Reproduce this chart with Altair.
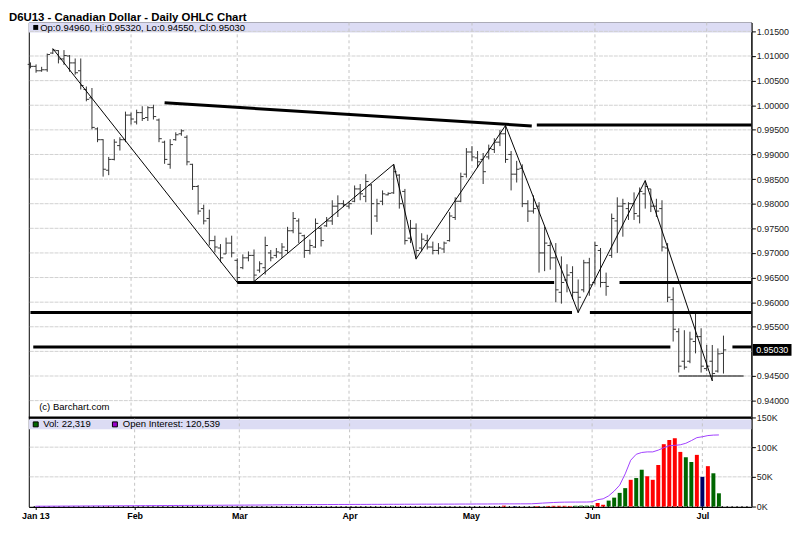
import altair as alt
import pandas as pd

# ---------------- data ----------------
highs = [
    1.0087, 1.0083, 1.0078, 1.0105, 1.0115, 1.0112, 1.0112, 1.0102, 1.0095, 1.0095,
    1.0038, 1.0035, 0.9955, 0.9931, 0.9895, 0.9931, 0.9935, 0.9987, 0.9985, 0.9991,
    0.9998, 0.9998, 1.0001, 0.9973, 0.9928, 0.9931, 0.9945, 0.9951, 0.9939, 0.9881,
    0.9838, 0.9798, 0.9788, 0.9735, 0.9718, 0.9731, 0.9735, 0.9689, 0.9697, 0.9703,
    0.9707, 0.9683, 0.9733, 0.9706, 0.9710, 0.9720, 0.9753, 0.9783, 0.9770, 0.9737,
    0.9727, 0.9770, 0.9753, 0.9773, 0.9807, 0.9817, 0.9807, 0.9803, 0.9837, 0.9840,
    0.9860, 0.9840, 0.9810, 0.9827, 0.9823, 0.9880, 0.9860, 0.9830, 0.9767, 0.9760,
    0.9740, 0.9737, 0.9723, 0.9720, 0.9723, 0.9783, 0.9813, 0.9863, 0.9913, 0.9917,
    0.9907, 0.9903, 0.9920, 0.9933, 0.9950, 0.9959, 0.9907, 0.9887, 0.9880, 0.9807,
    0.9817, 0.9803, 0.9753, 0.9723, 0.9720, 0.9693, 0.9677, 0.9673, 0.9646, 0.9686,
    0.9690, 0.9723, 0.9710, 0.9660, 0.9780, 0.9813, 0.9810, 0.9803, 0.9823, 0.9833,
    0.9847, 0.9830, 0.9810, 0.9807, 0.9720, 0.9630, 0.9547, 0.9543, 0.9540, 0.9576,
    0.9547, 0.9513, 0.9513, 0.9506, 0.9532,
]
lows = [
    1.0075, 1.0066, 1.0068, 1.0068, 1.0104, 1.0085, 1.0082, 1.0068, 1.0062, 1.0032,
    1.0008, 0.9951, 0.9925, 0.9855, 0.9858, 0.9888, 0.9908, 0.9925, 0.9961, 0.9961,
    0.9968, 0.9968, 0.9971, 0.9925, 0.9881, 0.9871, 0.9928, 0.9938, 0.9878, 0.9828,
    0.9778, 0.9758, 0.9715, 0.9701, 0.9681, 0.9698, 0.9691, 0.9640, 0.9667, 0.9683,
    0.9642, 0.9660, 0.9656, 0.9683, 0.9690, 0.9690, 0.9700, 0.9740, 0.9720, 0.9690,
    0.9697, 0.9710, 0.9713, 0.9753, 0.9757, 0.9773, 0.9793, 0.9790, 0.9803, 0.9807,
    0.9803, 0.9737, 0.9763, 0.9797, 0.9817, 0.9820, 0.9790, 0.9717, 0.9720, 0.9687,
    0.9703, 0.9707, 0.9697, 0.9697, 0.9700, 0.9723, 0.9767, 0.9803, 0.9853, 0.9887,
    0.9873, 0.9840, 0.9890, 0.9903, 0.9917, 0.9883, 0.9827, 0.9843, 0.9793, 0.9763,
    0.9780, 0.9660, 0.9663, 0.9666, 0.9600, 0.9597, 0.9620, 0.9606, 0.9578, 0.9620,
    0.9613, 0.9636, 0.9630, 0.9613, 0.9690, 0.9700, 0.9733, 0.9767, 0.9767, 0.9760,
    0.9790, 0.9783, 0.9773, 0.9703, 0.9600, 0.9520, 0.9457, 0.9463, 0.9476, 0.9496,
    0.9457, 0.9460, 0.9440, 0.9457, 0.9455,
]
opens = [
    1.0083, 1.0079, 1.0070, 1.0072, 1.0106, 1.0111, 1.0094, 1.0100, 1.0086, 1.0070,
    1.0032, 1.0015, 0.9952, 0.9930, 0.9868, 0.9890, 0.9918, 0.9930, 0.9980, 0.9966,
    0.9985, 0.9975, 0.9995, 0.9970, 0.9925, 0.9880, 0.9930, 0.9942, 0.9935, 0.9880,
    0.9835, 0.9790, 0.9770, 0.9725, 0.9710, 0.9698, 0.9720, 0.9685, 0.9670, 0.9690,
    0.9695, 0.9665, 0.9670, 0.9700, 0.9695, 0.9700, 0.9705, 0.9745, 0.9765, 0.9735,
    0.9705, 0.9712, 0.9750, 0.9755, 0.9765, 0.9795, 0.9800, 0.9795, 0.9805, 0.9830,
    0.9815, 0.9838, 0.9775, 0.9805, 0.9818, 0.9822, 0.9858, 0.9825, 0.9730, 0.9750,
    0.9710, 0.9725, 0.9712, 0.9705, 0.9708, 0.9725, 0.9772, 0.9805, 0.9860, 0.9905,
    0.9893, 0.9890, 0.9895, 0.9910, 0.9925, 0.9942, 0.9900, 0.9860, 0.9872, 0.9800,
    0.9785, 0.9795, 0.9700, 0.9715, 0.9690, 0.9620, 0.9645, 0.9660, 0.9620, 0.9625,
    0.9680, 0.9640, 0.9705, 0.9640, 0.9695, 0.9765, 0.9795, 0.9790, 0.9800, 0.9775,
    0.9820, 0.9830, 0.9795, 0.9790, 0.9710, 0.9605, 0.9540, 0.9480, 0.9480, 0.9520,
    0.9530, 0.9465, 0.9480, 0.9460, 0.9496,
]
closes = [
    1.0079, 1.0070, 1.0072, 1.0103, 1.0112, 1.0094, 1.0101, 1.0086, 1.0066, 1.0040,
    1.0012, 0.9955, 0.9930, 0.9870, 0.9890, 0.9925, 0.9930, 0.9980, 0.9972, 0.9985,
    0.9973, 0.9995, 0.9977, 0.9932, 0.9890, 0.9920, 0.9940, 0.9948, 0.9885, 0.9835,
    0.9785, 0.9765, 0.9725, 0.9712, 0.9690, 0.9720, 0.9700, 0.9650, 0.9690, 0.9695,
    0.9655, 0.9678, 0.9715, 0.9690, 0.9702, 0.9712, 0.9745, 0.9770, 0.9740, 0.9705,
    0.9715, 0.9760, 0.9725, 0.9765, 0.9795, 0.9800, 0.9798, 0.9800, 0.9830, 0.9820,
    0.9845, 0.9800, 0.9800, 0.9820, 0.9821, 0.9865, 0.9800, 0.9725, 0.9750, 0.9705,
    0.9728, 0.9712, 0.9705, 0.9710, 0.9720, 0.9775, 0.9805, 0.9855, 0.9905, 0.9895,
    0.9885, 0.9865, 0.9912, 0.9925, 0.9942, 0.9890, 0.9860, 0.9870, 0.9800, 0.9785,
    0.9790, 0.9700, 0.9720, 0.9690, 0.9625, 0.9640, 0.9655, 0.9620, 0.9610, 0.9680,
    0.9635, 0.9715, 0.9640, 0.9632, 0.9770, 0.9795, 0.9800, 0.9800, 0.9780, 0.9825,
    0.9835, 0.9795, 0.9785, 0.9712, 0.9610, 0.9545, 0.9470, 0.9468, 0.9525, 0.9530,
    0.9470, 0.9470, 0.9455, 0.9495, 0.9503,
]
volumes = [
    0, 0, 0, 0, 0, 0, 0, 0, 0, 0,
    0, 0, 0, 300, 0, 0, 0, 0, 0, 0,
    0, 0, 0, 0, 0, 0, 0, 0, 0, 0,
    0, 0, 0, 0, 0, 0, 0, 0, 0, 0,
    0, 0, 0, 0, 0, 0, 0, 0, 0, 0,
    0, 0, 0, 0, 0, 0, 0, 0, 0, 0,
    0, 0, 0, 0, 0, 0, 0, 0, 0, 0,
    0, 0, 0, 0, 0, 0, 0, 0, 0, 0,
    0, 0, 0, 0, 0, 1500, 0, 800, 0, 0,
    0, 1000, 0, 1000, 1200, 1200, 1200, 1000, 1300, 1500,
    1500, 1800, 6000, 3000, 10000, 15000, 23000, 31000, 45000, 48000,
    62000, 51000, 45000, 70000, 105000, 112000, 115000, 92000, 83000, 75000,
    87000, 50000, 68000, 56000, 22319,
]
vol_dir = [
    "d", "d", "d", "d", "d", "d", "d", "d", "d", "d",
    "d", "d", "d", "d", "d", "d", "d", "d", "d", "d",
    "d", "d", "d", "d", "d", "d", "d", "d", "d", "d",
    "d", "d", "d", "d", "d", "d", "d", "d", "d", "d",
    "d", "d", "d", "d", "d", "d", "d", "d", "d", "d",
    "d", "d", "d", "d", "d", "d", "d", "d", "d", "d",
    "d", "d", "d", "d", "d", "d", "d", "d", "d", "d",
    "d", "d", "d", "d", "d", "d", "d", "d", "d", "d",
    "d", "d", "d", "d", "d", "d", "d", "f", "d", "d",
    "d", "d", "d", "d", "d", "d", "d", "d", "u", "u",
    "u", "u", "d", "d", "u", "u", "u", "u", "d", "u",
    "u", "d", "d", "d", "d", "d", "d", "d", "u", "u",
    "d", "f", "d", "u", "u",
]
open_interest = [
    500, 600, 600, 700, 700, 800, 800, 900, 900, 1000,
    1000, 1100, 1100, 1200, 1200, 1300, 1300, 1400, 1400, 1500,
    1500, 1600, 1600, 1700, 1700, 1800, 1800, 1900, 1900, 2000,
    2000, 2100, 2100, 2200, 2200, 2300, 2300, 2400, 2400, 2500,
    2500, 2600, 2700, 2800, 2900, 3000, 3000, 3100, 3100, 3200,
    3200, 3300, 3300, 3400, 3400, 3500, 3500, 3500, 3600, 3600,
    3600, 3700, 3700, 3700, 3800, 3800, 3800, 3900, 3900, 3900,
    4000, 4000, 4000, 4000, 4100, 4100, 4100, 4200, 4200, 4200,
    4300, 4300, 4300, 4400, 4400, 4500, 4500, 4500, 4600, 4600,
    4700, 5200, 5800, 6300, 6800, 7200, 7400, 7500, 7500, 7600,
    7600, 8000, 11500, 13000, 18000, 26000, 36000, 55000, 78000, 88000,
    91000, 92000, 92000, 95000, 99000, 102500, 103000, 104000, 106500, 111000,
    116000, 117500, 119500, 120300, 120539,
]

month_idx = [0, 18, 37, 57, 79, 101, 121]
month_labels = ["Jan 13", "Feb", "Mar", "Apr", "May", "Jun", "Jul"]
price_ticks = [0.940, 0.945, 0.950, 0.955, 0.960, 0.965, 0.970, 0.975,
               0.980, 0.985, 0.990, 0.995, 1.000, 1.005, 1.010, 1.015]
price_labels = [0.940, 0.945, 0.955, 0.960, 0.965, 0.970, 0.975,
                0.980, 0.985, 0.990, 0.995, 1.000, 1.005, 1.010, 1.015]
vol_ticks = [0, 50000, 100000, 150000]

# zig-zag trend line (bar index, price)
zz_idx = [4, 37, 40, 65, 69, 85, 98, 110, 122]
zz_px = [1.0115, 0.9640, 0.9642, 0.9880, 0.9688, 0.9959, 0.9579, 0.9847, 0.9440]

# heavy support / resistance lines (bar index, price)
thick_x1 = [24.0, 90.6, 37.0, 105.4, 0.0, 100.1, 0.5, 125.6]
thick_x2 = [89.7, 129.0, 93.7, 129.0, 96.9, 129.0, 114.5, 129.0]
thick_y1 = [1.0005, 0.9960, 0.9640, 0.9640, 0.9579, 0.9579, 0.9509, 0.9509]
thick_y2 = [0.9958, 0.9960, 0.9640, 0.9640, 0.9579, 0.9579, 0.9509, 0.9509]
thin_x1 = [116.0]
thin_x2 = [127.6]
thin_y = [0.9450]

# ---------------- chart ----------------
FONT = "Liberation Sans"
W, HM, HV = 730, 399, 90

bars = pd.DataFrame({
    "i": list(range(len(highs))), "o": opens, "h": highs, "l": lows, "c": closes,
    "v": volumes, "d": vol_dir, "oi": open_interest,
})

xs = alt.Scale(domain=[-0.3, 129.0], nice=False, zero=False)
ys = alt.Scale(domain=[0.93658, 1.01681], nice=False, zero=False)
vs = alt.Scale(domain=[0, 150000], nice=False)

yaxis = alt.Axis(
    orient="right", values=price_labels, format=".5f", title=None, grid=False,
    tickSize=4, labelPadding=1, labelFontSize=9, labelColor="#222", labelFont=FONT,
    domainColor="black", tickColor="black", labelOverlap=False)
vaxis = alt.Axis(
    orient="right", values=vol_ticks, labelExpr="(datum.value / 1000) + 'K'", title=None,
    grid=False, tickSize=4, labelPadding=1, labelFontSize=9, labelColor="#222", labelFont=FONT,
    domainColor="black", tickColor="black", labelOverlap=False)
expr = " : ".join("datum.value == {} ? '{}'".format(v, t) for v, t in zip(month_idx, month_labels)) + " : ''"
xaxis = alt.Axis(values=month_idx, labelExpr=expr, title=None, grid=False, tickSize=3,
                 tickColor="black", domainColor="black", domainWidth=2, labelFontWeight="bold",
                 labelFontSize=9, labelColor="black", labelPadding=2, labelFlush=False,
                 labelOverlap=False, labelFont=FONT)


def px_text(txt, x, y, size=9.6, weight="normal", color="black", align="left", baseline="middle"):
    return alt.Chart(pd.DataFrame({"t": [txt]})).mark_text(
        align=align, baseline=baseline, font=FONT, fontSize=size, fontWeight=weight, color=color
    ).encode(x=alt.value(x), y=alt.value(y), text="t:N")


def px_rect(x1, x2, y1, y2, fill, stroke=None):
    kw = {"fill": fill}
    if stroke:
        kw["stroke"] = stroke
        kw["strokeWidth"] = 1
    return alt.Chart(pd.DataFrame({"a": [0]})).mark_rect(**kw).encode(
        x=alt.value(x1), x2=alt.value(x2), y=alt.value(y1), y2=alt.value(y2))


def XM(field):
    return alt.X(field, scale=xs, axis=None)


def XV(field):
    return alt.X(field, scale=xs, axis=xaxis)


def YM(field):
    return alt.Y(field, scale=ys, axis=yaxis)


def YV(field):
    return alt.Y(field, scale=vs, axis=vaxis)


# --- main price panel
band = px_rect(0, W, 0, 10, "#dcdcf4")
hgrid = alt.Chart(pd.DataFrame({"p": price_ticks})).mark_rule(
    color="#d0d0d0", strokeDash=[4, 1]).encode(y=YM("p:Q"))
vgrid = alt.Chart(pd.DataFrame({"m": month_idx[1:]})).mark_rule(
    color="#c4c4c4", strokeDash=[3, 3]).encode(x=XM("m:Q"))

hl = alt.Chart(bars).mark_rule(color="#333333", strokeWidth=1).encode(
    x=XM("i:Q"), y=YM("l:Q"), y2="h:Q")
op = alt.Chart(bars).transform_calculate(xo="datum.i - 0.5").mark_rule(
    color="#333333", strokeWidth=1).encode(x=XM("xo:Q"), x2="i:Q", y=YM("o:Q"))
cl = alt.Chart(bars).transform_calculate(xc="datum.i + 0.5").mark_rule(
    color="#333333", strokeWidth=1).encode(x=XM("i:Q"), x2="xc:Q", y=YM("c:Q"))

zig = alt.Chart(pd.DataFrame({"zi": zz_idx, "zp": zz_px})).mark_line(
    color="black", strokeWidth=1).encode(x=XM("zi:Q"), y=YM("zp:Q"))
thick = alt.Chart(pd.DataFrame({"x1": thick_x1, "x2": thick_x2, "y1": thick_y1, "y2": thick_y2})).mark_rule(
    color="black", strokeWidth=3).encode(x=XM("x1:Q"), x2="x2:Q", y=YM("y1:Q"), y2="y2:Q")
thin = alt.Chart(pd.DataFrame({"x1": thin_x1, "x2": thin_x2, "y1": thin_y})).mark_rule(
    color="black", strokeWidth=1).encode(x=XM("x1:Q"), x2="x2:Q", y=YM("y1:Q"))

legend_txt = "Op:{:.5f}, Hi:{:.5f}, Lo:{:.5f}, Cl:{:.5f}".format(opens[-1], highs[-1], lows[-1], closes[-1])
leg_sq = px_rect(4.5, 9.5, 2.5, 7.5, "black")
leg_t = px_text(legend_txt, 11.5, 5.5)
copy_t = px_text("(c) Barchart.com", 10.5, 388)
title_t = px_text("D6U13 - Canadian Dollar - Daily OHLC Chart", -20, -11, size=11.5,
                  weight="bold", baseline="top")

lastdf = pd.DataFrame({"c": [closes[-1]], "t": ["{:.5f}".format(closes[-1])]})
box = alt.Chart(lastdf).mark_rect(color="black", yOffset=-6, y2Offset=6).encode(
    x=alt.value(731.5), x2=alt.value(770.5), y=YM("c:Q"), y2="c:Q")
box_t = alt.Chart(lastdf).mark_text(color="white", font=FONT, fontSize=9, align="center",
                                    baseline="middle").encode(x=alt.value(751), y=YM("c:Q"), text="t:N")

main = alt.layer(
    band, hgrid, vgrid, hl, op, cl, zig, thick, thin, leg_sq, leg_t, copy_t, title_t, box, box_t
).properties(width=W, height=HM)

# --- volume panel
vband = px_rect(0, W, 2, 12, "#dcdcf4")
vh = alt.Chart(pd.DataFrame({"v": vol_ticks})).mark_rule(color="#d0d0d0", strokeDash=[4, 1]).encode(
    y=YV("v:Q"))
vv = alt.Chart(pd.DataFrame({"m": month_idx[1:]})).mark_rule(
    color="#c4c4c4", strokeDash=[3, 3]).encode(x=XV("m:Q"))
vbars = alt.Chart(bars).mark_bar(size=4).encode(
    x=XV("i:Q"),
    y=YV("v:Q"),
    color=alt.Color("d:N", scale=alt.Scale(domain=["u", "d", "f"],
                                           range=["#006600", "#ff0000", "#000066"]), legend=None),
)
oi_line = alt.Chart(bars).mark_line(color="#a040ff", strokeWidth=1).encode(
    x=XV("i:Q"), y=YV("oi:Q"))
sep = alt.Chart(pd.DataFrame({"a": [0]})).mark_rule(color="black", strokeWidth=2).encode(
    x=alt.value(0), x2=alt.value(W), y=alt.value(0))
vsq = px_rect(4.5, 9.5, 4.5, 9.5, "#006600", stroke="black")
vtxt = px_text("Vol: {:,}".format(volumes[-1]), 14.5, 7)
osq = px_rect(84.5, 89.5, 4.5, 9.5, "#9900cc", stroke="black")
otxt = px_text("Open Interest: {:,}".format(open_interest[-1]), 95, 7)

vol = alt.layer(vband, vh, vv, vbars, oi_line, sep, vsq, vtxt, osq, otxt).properties(width=W, height=HV)

chart = alt.vconcat(main, vol, spacing=0, bounds="flush", padding=0, background="white").configure_view(
    stroke="black", strokeWidth=1)

chart.save("out.html", embed_options={"renderer": "svg", "actions": False})
